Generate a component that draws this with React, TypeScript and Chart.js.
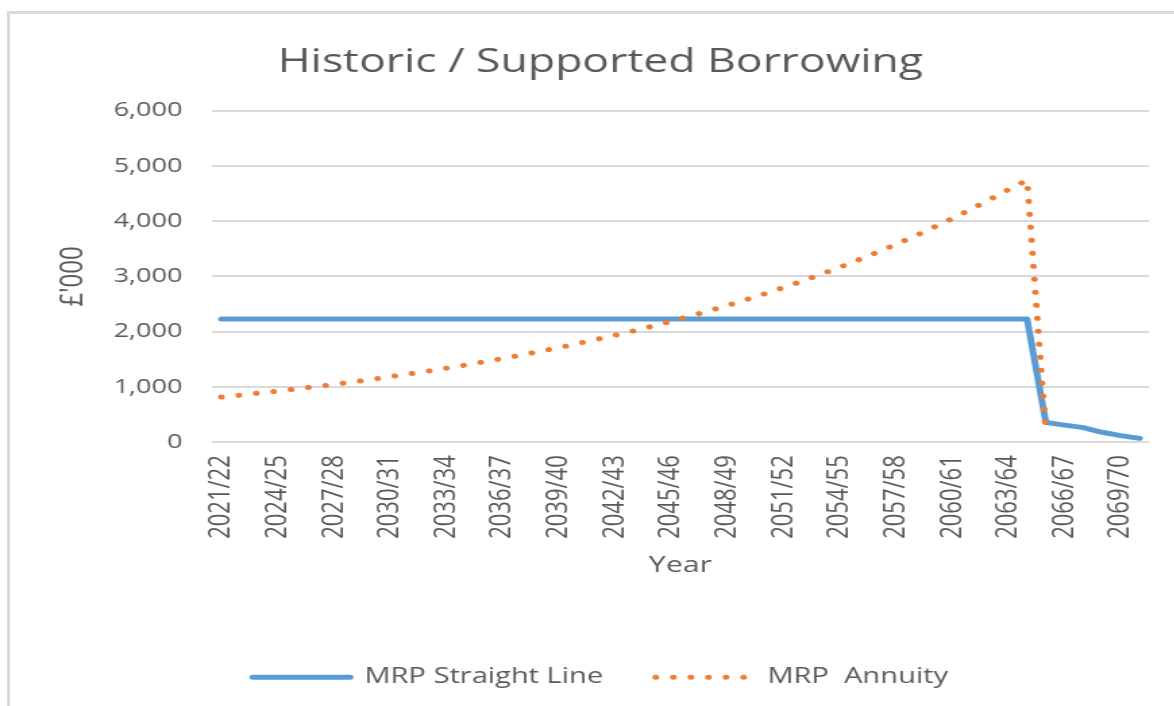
import React, { useEffect, useRef } from "react";
import { Chart, registerables } from "chart.js";

Chart.register(...registerables);

const categories = [
  "2021/22", "2022/23", "2023/24", "2024/25", "2025/26", "2026/27", "2027/28", "2028/29", "2029/30", "2030/31",
  "2031/32", "2032/33", "2033/34", "2034/35", "2035/36", "2036/37", "2037/38", "2038/39", "2039/40", "2040/41",
  "2041/42", "2042/43", "2043/44", "2044/45", "2045/46", "2046/47", "2047/48", "2048/49", "2049/50", "2050/51",
  "2051/52", "2052/53", "2053/54", "2054/55", "2055/56", "2056/57", "2057/58", "2058/59", "2059/60", "2060/61",
  "2061/62", "2062/63", "2063/64", "2064/65", "2065/66", "2066/67", "2067/68", "2068/69", "2069/70", "2070/71",
];

const straightLine = [
  2230, 2230, 2230, 2230, 2230, 2230, 2230, 2230, 2230, 2230,
  2230, 2230, 2230, 2230, 2230, 2230, 2230, 2230, 2230, 2230,
  2230, 2230, 2230, 2230, 2230, 2230, 2230, 2230, 2230, 2230,
  2230, 2230, 2230, 2230, 2230, 2230, 2230, 2230, 2230, 2230,
  2230, 2230, 2230, 2230, 360, 310, 265, 180, 120, 70,
];

const annuity: (number | null)[] = [
  820, 850, 890, 925, 965, 1005, 1045, 1090, 1135, 1185,
  1235, 1285, 1340, 1395, 1455, 1515, 1575, 1645, 1710, 1785,
  1860, 1935, 2015, 2100, 2190, 2280, 2375, 2475, 2580, 2685,
  2800, 2915, 3040, 3165, 3300, 3435, 3580, 3730, 3885, 4045,
  4215, 4390, 4570, 4740, 170, null, null, null, null, null,
];

const seriesNames = ["MRP Straight Line", "MRP  Annuity"];
const titleText = "Historic / Supported Borrowing";
const yTitle = "£'000";
const xTitle = "Year";

const SX = 1.35;
const W = 851;
const H = 706;
const FONT = "'Open Sans', sans-serif";
const GREY = "#595959";
const BLUE = "#5b9bd5";
const ORANGE = "#ed7d31";

export default function App() {
  const ref = useRef<HTMLCanvasElement>(null);

  useEffect(() => {
    const chart = new Chart(ref.current as HTMLCanvasElement, {
      type: "line",
      data: {
        labels: categories,
        datasets: [
          {
            label: seriesNames[0],
            data: straightLine,
            borderColor: BLUE,
            backgroundColor: BLUE,
            borderWidth: 5,
            borderCapStyle: "round",
            borderJoinStyle: "round",
            pointRadius: 0,
            pointHoverRadius: 0,
            tension: 0,
            order: 1,
          },
          {
            label: seriesNames[1],
            data: annuity,
            borderColor: ORANGE,
            backgroundColor: ORANGE,
            borderWidth: 5,
            borderDash: [0.01, 13],
            borderCapStyle: "round",
            borderJoinStyle: "round",
            pointRadius: 0,
            pointHoverRadius: 0,
            tension: 0,
            spanGaps: false,
            order: 0,
          },
        ],
      },
      options: {
        responsive: false,
        animation: false,
        devicePixelRatio: 1,
        events: [],
        layout: { padding: { left: 38.5, right: 0, top: 0, bottom: 8 } },
        plugins: {
          tooltip: { enabled: false },
          title: {
            display: true,
            text: titleText,
            color: GREY,
            font: { family: FONT, size: 33, weight: "normal" },
            padding: { top: 42.5, bottom: 28.5 },
          },
          legend: {
            display: true,
            position: "bottom",
            maxHeight: 88.75,
            labels: {
              color: GREY,
              font: { family: FONT, size: 21.5 },
              usePointStyle: true,
              pointStyle: "line",
              pointStyleWidth: 72,
              padding: 39,
              generateLabels: (c: any) =>
                c.data.datasets.map((ds: any, i: number) => ({
                  text: ds.label,
                  fillStyle: ds.borderColor,
                  strokeStyle: ds.borderColor,
                  lineWidth: ds.borderWidth,
                  lineDash: ds.borderDash || [],
                  lineCap: "round",
                  lineJoin: "round",
                  pointStyle: "line",
                  hidden: false,
                  datasetIndex: i,
                  fontColor: GREY,
                })),
            },
          },
        },
        scales: {
          x: {
            type: "category",
            offset: true,
            grid: { display: false, drawTicks: false },
            border: { display: false },
            ticks: {
              autoSkip: false,
              minRotation: 90,
              maxRotation: 90,
              padding: 13,
              color: GREY,
              font: { family: FONT, size: 22 },
              callback: (_v: any, idx: number) => (idx % 3 === 0 ? categories[idx] : ""),
            },
            title: {
              display: true,
              text: xTitle,
              color: GREY,
              font: { family: FONT, size: 22.5 },
              padding: { top: 0, bottom: 48.75 },
            },
            afterFit: (s: any) => {
              s.height = 185.25;
              s.paddingLeft = 0;
              s.paddingRight = 0;
            },
          },
          y: {
            min: 0,
            max: 6000,
            ticks: {
              stepSize: 1000,
              padding: 22,
              color: GREY,
              font: { family: FONT, size: 20 },
              callback: (v: any) => Number(v).toLocaleString("en-GB"),
            },
            grid: { color: "#d9d9d9", lineWidth: 2, drawTicks: false },
            border: { display: false },
            title: {
              display: true,
              text: yTitle,
              color: GREY,
              font: { family: FONT, size: 24 },
              padding: { top: 1.6, bottom: 0 },
            },
            afterFit: (s: any) => {
              s.width = 118.6;
            },
          },
        },
      } as any,
    });
    return () => chart.destroy();
  }, []);

  return (
    <div
      style={{
        position: "fixed",
        left: 0,
        top: 0,
        width: 1174,
        height: 706,
        background: "#fff",
        overflow: "hidden",
      }}
    >
      <div
        style={{
          position: "absolute",
          left: 7,
          top: 11,
          right: -10,
          bottom: -10,
          borderLeft: "3.5px solid #d9d9d9",
          borderTop: "3px solid #d9d9d9",
        }}
      />
      <div
        style={{
          position: "absolute",
          left: 0,
          top: 0,
          width: W,
          height: H,
          transform: `scaleX(${SX})`,
          transformOrigin: "0 0",
        }}
      >
        <canvas ref={ref} width={W} height={H} style={{ display: "block", width: W, height: H }} />
      </div>
    </div>
  );
}
